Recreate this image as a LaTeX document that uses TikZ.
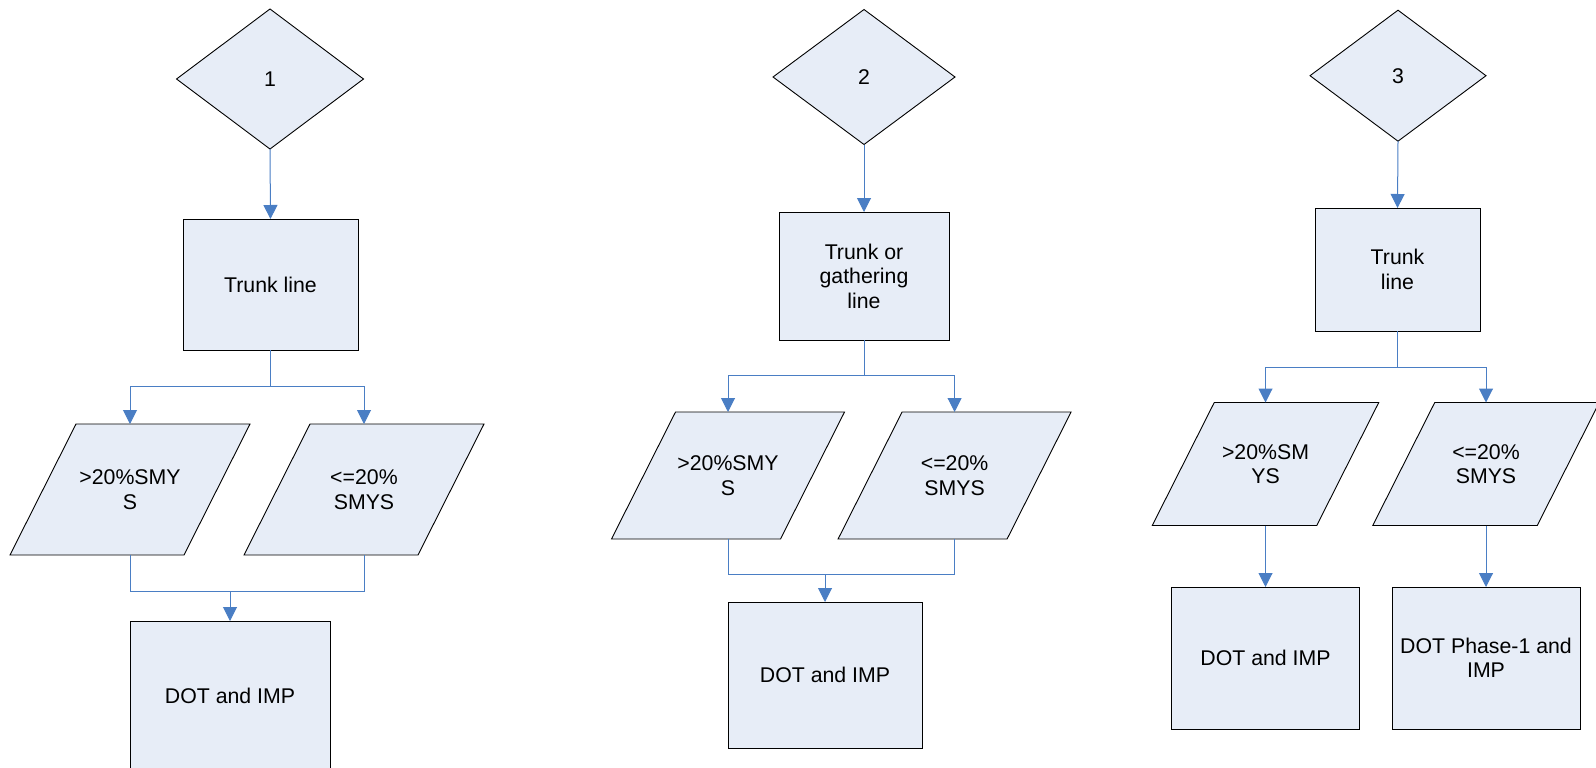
\documentclass[tikz,border=0pt]{standalone}
\usepackage{fontspec}
\setmainfont{Liberation Sans}
\usetikzlibrary{shapes.geometric,arrows.meta,calc,backgrounds}
\definecolor{boxfill}{RGB}{231,237,247}
\definecolor{linkblue}{RGB}{74,126,196}
% slanted outline behind a data node: #1 node name, #2 half of the horizontal shift
\newcommand\slantframe[2]{%
  \begin{scope}[on background layer]
    \draw[frame] ($(#1.north west)+(#2,0)$) -- ($(#1.north east)+(#2,0)$)
      -- ($(#1.south east)-(#2,0)$) -- ($(#1.south west)-(#2,0)$) -- cycle;
  \end{scope}}
\begin{document}
\begin{tikzpicture}[x=1pt,y=-1pt,
  every node/.style={font=\fontsize{21.3}{24.5}\selectfont, align=center, outer sep=0pt, inner sep=2pt},
  frame/.style={draw=black, line width=0.9pt, fill=boxfill},
  decision/.style={diamond, frame, minimum width=#1},
  procbox/.style={rectangle, frame},
  databox/.style={rectangle},
  link/.style={draw=linkblue, line width=1pt},
  flow/.style={link, -{Triangle[length=14pt,width=14pt]}}]
\useasboundingbox (0,0) rectangle (1596,768);

% ---------- column 1 ----------
\node[decision=187, minimum height=140] (d1) at (270,79) {1};
\node[procbox, minimum width=175, minimum height=131] (b1) at (270.5,284.5) {Trunk line};
\node[databox, minimum width=174, minimum height=131] (p1a) at (130,489.5) {>20\%SMY\\S};
\node[databox, minimum width=174, minimum height=131] (p1b) at (364,489.5) {<=20\%\\SMYS};
\node[procbox, minimum width=200, minimum height=149] (r1) at (230,695.5) {DOT and IMP};
\slantframe{p1a}{33}
\slantframe{p1b}{33}
\coordinate (s1) at (270.5,386);
\coordinate (m1) at (230,591);
\draw[flow] (d1.south) -- (b1.north);
\draw[link] (b1.south) -- (s1);
\draw[flow] (s1) -| (p1a.north);
\draw[flow] (s1) -| (p1b.north);
\draw[link] (p1a.south) |- (m1);
\draw[link] (p1b.south) |- (m1);
\draw[flow] (m1) -- (r1.north);

% ---------- column 2 ----------
\node[decision=182, minimum height=135] (d2) at (864,77) {2};
\node[procbox, minimum width=170, minimum height=128] (b2) at (864,276) {Trunk or\\gathering\\line};
\node[databox, minimum width=169, minimum height=127] (p2a) at (728,475.5) {>20\%SMY\\S};
\node[databox, minimum width=169, minimum height=127] (p2b) at (954.6,475.5) {<=20\%\\SMYS};
\node[procbox, minimum width=194, minimum height=146] (r2) at (825,675) {DOT and IMP};
\slantframe{p2a}{32}
\slantframe{p2b}{32}
\coordinate (s2) at (864,375.5);
\coordinate (m2) at (825,574.7);
\draw[flow] (d2.south) -- (b2.north);
\draw[link] (b2.south) -- (s2);
\draw[flow] (s2) -| (p2a.north);
\draw[flow] (s2) -| (p2b.north);
\draw[link] (p2a.south) |- (m2);
\draw[link] (p2b.south) |- (m2);
\draw[flow] (m2) -- (r2.north);

% ---------- column 3 ----------
\node[decision=176, minimum height=131] (d3) at (1398,75.7) {3};
\node[procbox, minimum width=165, minimum height=123] (b3) at (1397.5,269.5) {Trunk\\line};
\node[databox, minimum width=164.5, minimum height=123] (p3a) at (1265.5,464) {>20\%SM\\YS};
\node[databox, minimum width=164.5, minimum height=123] (p3b) at (1486,464) {<=20\%\\SMYS};
\node[procbox, minimum width=188, minimum height=142] (r3a) at (1265.5,658) {DOT and IMP};
\node[procbox, minimum width=188, minimum height=142] (r3b) at (1486,658) {DOT Phase-1 and\\IMP};
\slantframe{p3a}{31}
\slantframe{p3b}{31}
\coordinate (s3) at (1397.5,367.3);
\draw[flow] (d3.south) -- (b3.north);
\draw[link] (b3.south) -- (s3);
\draw[flow] (s3) -| (p3a.north);
\draw[flow] (s3) -| (p3b.north);
\draw[flow] (p3a.south) -- (r3a.north);
\draw[flow] (p3b.south) -- (r3b.north);
\end{tikzpicture}
\end{document}
